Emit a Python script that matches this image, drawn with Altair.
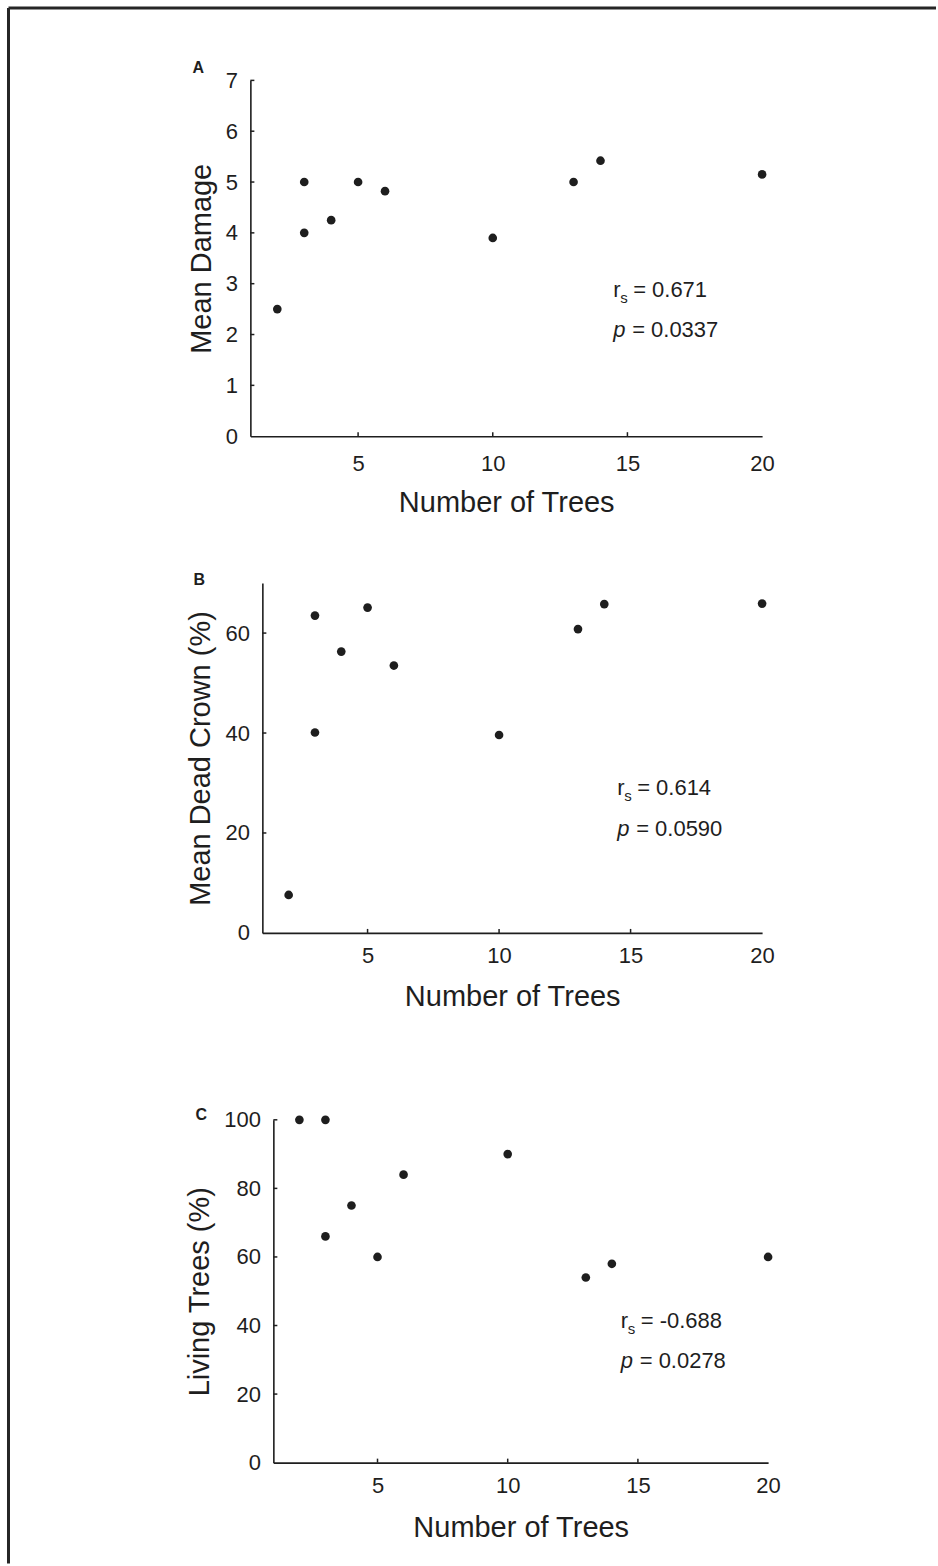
import altair as alt
import pandas as pd

# ---------------- data ----------------
trees = [2, 3, 3, 4, 5, 6, 10, 13, 14, 20]
mean_damage = [2.5, 5.0, 4.0, 4.25, 5.0, 4.82, 3.9, 5.0, 5.42, 5.15]
dead_crown = [7.6, 63.5, 40.1, 56.3, 65.1, 53.5, 39.6, 60.8, 65.8, 65.9]
living_trees = [100, 100, 66, 75, 60, 84, 90, 54, 58, 60]

panel_letters = ["A", "B", "C"]
y_titles = ["Mean Damage", "Mean Dead Crown (%)", "Living Trees (%)"]
y_max = [7, 70, 100]
y_label_values = [[0, 1, 2, 3, 4, 5, 6, 7], [0, 20, 40, 60], [0, 20, 40, 60, 80, 100]]
x_label_values = [5, 10, 15, 20]
x_tick_values = [5, 10, 15]
rs_values = ["0.671", "0.614", "-0.688"]
p_values = ["0.0337", "0.0590", "0.0278"]
# annotation anchors (data units)
ann_x = [14.47, 14.49, 14.34]
ann_r_y = [2.73, 27.6, 39.4]
ann_p_y = [1.95, 19.4, 27.7]

FONT = "Liberation Sans"
TITLE_FONT = "Liberation Sans"
INK = "#1e1e1e"

PANEL_W = 518
# group height, plot top inside group (y range = [height, top])
heights = [356, 350, 383]
plot_top = [0, 0, 40]
x_range = [(0, 512), (12, 512), (23, 518)]
x_label_pad = [17, 13, 13]
x_title_pad = [14, 16, 17]
letter_pos = [(-58, -7), (-57, 2), (-55, 40)]


def panel(i, values, frame=False):
    h = heights[i]
    t0 = plot_top[i]
    r0, r1 = x_range[i]
    xs = alt.Scale(domain=[1, 20], range=[r0, r1], nice=False, zero=False)
    ys = alt.Scale(domain=[0, y_max[i]], range=[h, t0], nice=False, zero=False)
    df = pd.DataFrame({"trees": trees, "val": values})

    x_axis = alt.Axis(
        values=x_label_values, format="d", title="Number of Trees",
        ticks=False, tickSize=0, grid=False,
        domainColor=INK, domainWidth=1.6,
        labelFont=FONT, labelFontSize=22, labelColor=INK, labelPadding=x_label_pad[i],
        labelFlush=False, labelOverlap=False,
        titleFont=TITLE_FONT, titleFontSize=29, titleFontWeight="normal",
        titleColor=INK, titlePadding=x_title_pad[i],
    )
    y_axis = alt.Axis(
        values=y_label_values[i], format="d", title=y_titles[i],
        ticks=False, tickSize=0, grid=False,
        domainColor=INK, domainWidth=1.6,
        labelFont=FONT, labelFontSize=22, labelColor=INK, labelPadding=13,
        labelFlush=False, labelOverlap=False,
        titleFont=TITLE_FONT, titleFontSize=29, titleFontWeight="normal",
        titleColor=INK, titlePadding=9, offset=-r0,
    )

    pts = alt.Chart(df).mark_circle(size=75, color=INK, opacity=1).encode(
        x=alt.X("trees:Q", scale=xs, axis=x_axis),
        y=alt.Y("val:Q", scale=ys, axis=y_axis),
    )

    xt = pd.DataFrame({"trees": x_tick_values})
    xticks = alt.Chart(xt).mark_rule(color=INK, strokeWidth=1.5).encode(
        x=alt.X("trees:Q", scale=xs),
        y=alt.value(h), y2=alt.value(h - 4),
    )
    yt = pd.DataFrame({"val": [v for v in y_label_values[i] if v != 0]})
    yticks = alt.Chart(yt).mark_rule(color=INK, strokeWidth=1.5).encode(
        y=alt.Y("val:Q", scale=ys),
        x=alt.value(r0), x2=alt.value(r0 + 4),
    )

    ann_r = pd.DataFrame({"trees": [ann_x[i]], "val": [ann_r_y[i]],
                          "txt": ["= " + rs_values[i]]})
    ann_p = pd.DataFrame({"trees": [ann_x[i]], "val": [ann_p_y[i]],
                          "txt": ["= " + p_values[i]]})
    enc = dict(x=alt.X("trees:Q", scale=xs), y=alt.Y("val:Q", scale=ys))
    common = dict(align="left", baseline="alphabetic", font=FONT, color=INK)
    t_r = alt.Chart(ann_r).mark_text(text="r", fontSize=22, **common).encode(**enc)
    t_s = alt.Chart(ann_r).mark_text(text="s", fontSize=15, dx=7, dy=6, **common).encode(**enc)
    t_rv = alt.Chart(ann_r).mark_text(fontSize=22, dx=20, **common).encode(text="txt:N", **enc)
    t_p = alt.Chart(ann_p).mark_text(text="p", fontSize=22, fontStyle="italic", **common).encode(**enc)
    t_pv = alt.Chart(ann_p).mark_text(fontSize=22, dx=19, **common).encode(text="txt:N", **enc)

    lx, ly = letter_pos[i]
    letter = alt.Chart(pd.DataFrame({"letter": [panel_letters[i]]})).mark_text(
        align="left", baseline="alphabetic", font=FONT, fontSize=16,
        fontWeight="bold", color=INK,
    ).encode(text="letter:N", x=alt.value(lx), y=alt.value(ly))

    layers = [pts, xticks, yticks, t_r, t_s, t_rv, t_p, t_pv, letter]
    if frame:
        one = pd.DataFrame({"k": [0]})
        top = alt.Chart(one).mark_rule(color="#262626", strokeWidth=3).encode(
            x=alt.value(-242), x2=alt.value(686), y=alt.value(-72.5))
        left = alt.Chart(one).mark_rule(color="#262626", strokeWidth=3).encode(
            x=alt.value(-242), y=alt.value(-72.5), y2=alt.value(1484))
        layers += [top, left]

    return alt.layer(*layers).properties(width=PANEL_W, height=h)


pA = panel(0, mean_damage, frame=True)
pB = panel(1, dead_crown)
pC = panel(2, living_trees)

chart = alt.vconcat(pA, pB, pC, spacing=147, bounds="flush").properties(
    padding={"left": 6.5, "top": 6, "right": 0, "bottom": 0},
    background="white",
).configure_view(stroke=None)

chart.save("out.html", embed_options={"renderer": "svg", "actions": False})
